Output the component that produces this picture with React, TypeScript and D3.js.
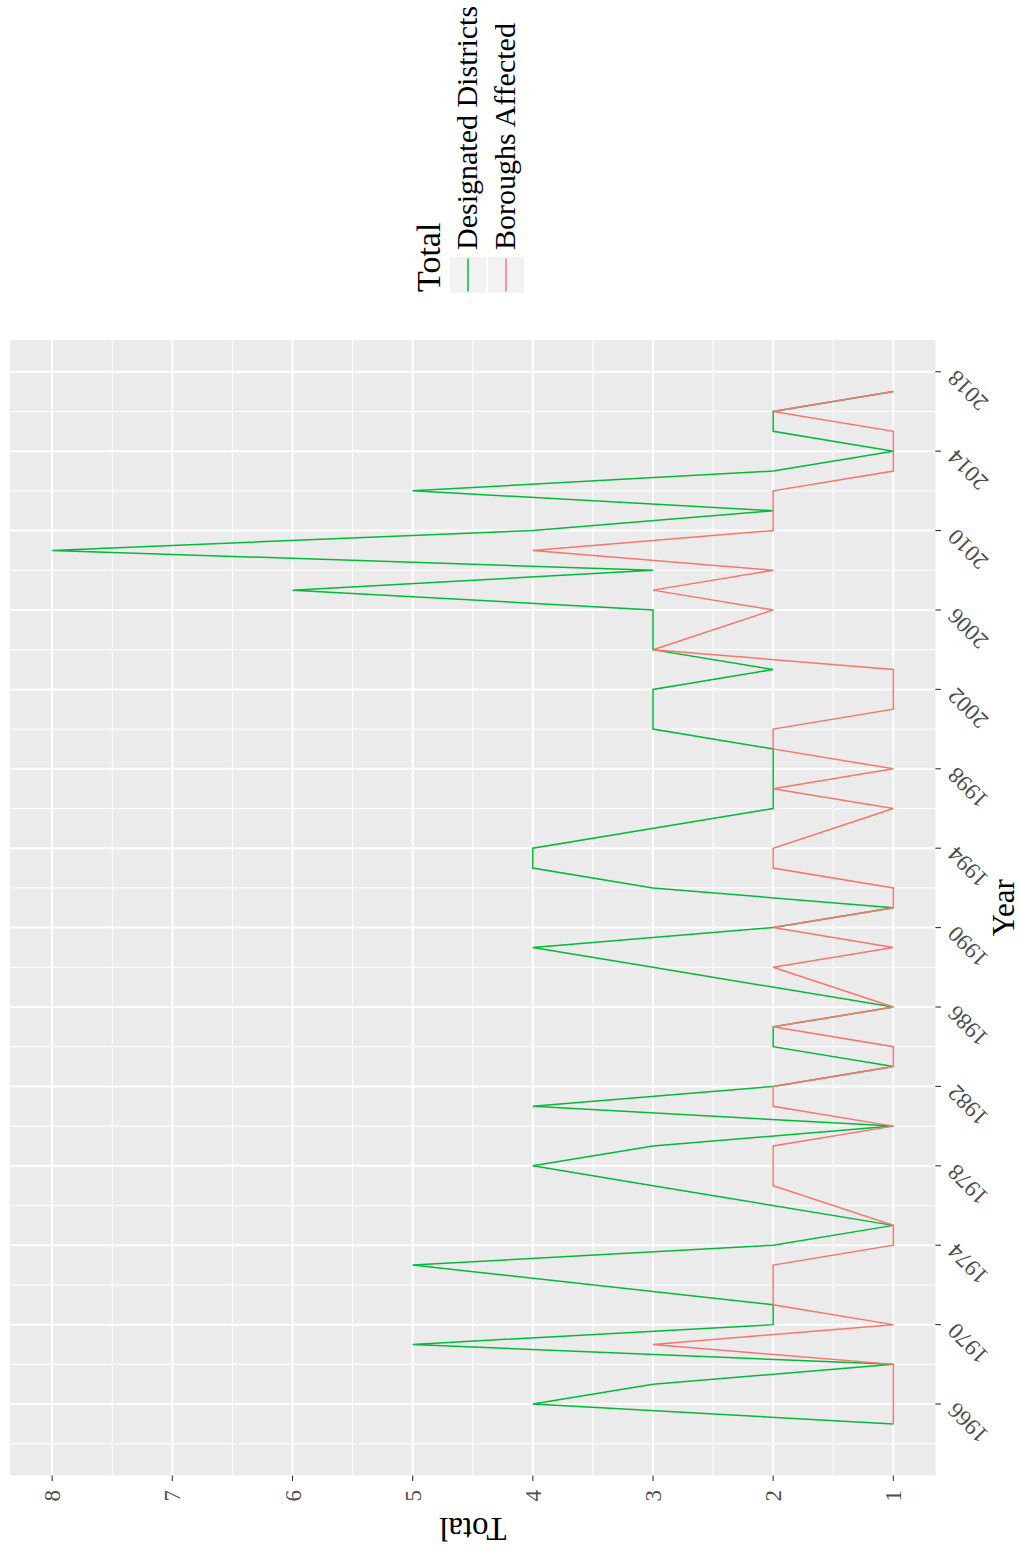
import React from 'react';
import * as d3 from 'd3';

// ---- data ----
const years = [1965, 1966, 1967, 1968, 1969, 1970, 1971, 1973, 1974, 1975, 1977, 1978, 1979, 1980, 1981, 1982, 1983, 1984, 1985, 1986, 1988, 1989, 1990, 1991, 1992, 1993, 1994, 1996, 1997, 1998, 1999, 2000, 2001, 2002, 2003, 2004, 2006, 2007, 2008, 2009, 2010, 2011, 2012, 2013, 2014, 2015, 2016, 2017];
const designatedDistricts = [1, 4, 3, 1, 5, 2, 2, 5, 2, 1, 3, 4, 3, 1, 4, 2, 1, 2, 2, 1, 3, 4, 2, 1, 3, 4, 4, 2, 2, 2, 2, 3, 3, 3, 2, 3, 3, 6, 3, 8, 4, 2, 5, 2, 1, 2, 2, 1];
const boroughsAffected = [1, 1, 1, 1, 3, 1, 2, 2, 1, 1, 2, 2, 2, 1, 2, 2, 1, 1, 2, 1, 2, 1, 2, 1, 1, 2, 2, 1, 2, 1, 2, 2, 1, 1, 1, 3, 2, 3, 2, 4, 2, 2, 2, 1, 1, 1, 2, 1];
const seriesNames = ['Designated Districts', 'Boroughs Affected'];
const seriesColors = ['#00BA38', '#F8766D'];
const yearTicks = [1966, 1970, 1974, 1978, 1982, 1986, 1990, 1994, 1998, 2002, 2006, 2010, 2014, 2018];
const yearMinor = [1964, 1968, 1972, 1976, 1980, 1984, 1988, 1992, 1996, 2000, 2004, 2008, 2012, 2016];
const totalTicks = [1, 2, 3, 4, 5, 6, 7, 8];
const totalMinor = [1.5, 2.5, 3.5, 4.5, 5.5, 6.5, 7.5];
const xTitle = 'Year';
const yTitle = 'Total';
const legendTitle = 'Total';

// ---- layout (the plot is drawn unrotated, then turned 90° counter-clockwise) ----
const PAGE_W = 1021;
const PAGE_H = 1546;
const panel = { left: 70.5, right: 1206, top: 10.1, bottom: 935.4 };
const FONT = "'Liberation Serif', 'Times New Roman', serif";

export default function App() {
  const yrExt = d3.extent(years) as [number, number];
  const yrPad = (yrExt[1] - yrExt[0]) * 0.05;
  const x = d3.scaleLinear().domain([yrExt[0] - yrPad, yrExt[1] + yrPad]).range([panel.left, panel.right]);
  const allVals = designatedDistricts.concat(boroughsAffected);
  const vExt = d3.extent(allVals) as [number, number];
  const vPad = (vExt[1] - vExt[0]) * 0.05;
  const y = d3.scaleLinear().domain([vExt[0] - vPad, vExt[1] + vPad]).range([panel.bottom, panel.top]);

  const series = [designatedDistricts, boroughsAffected];
  const line = d3.line<[number, number]>().x(d => x(d[0])).y(d => y(d[1]));

  return (
    <svg width={PAGE_W} height={PAGE_H} style={{ position: 'absolute', left: 0, top: 0 }} fontFamily={FONT}>
      <rect x={0} y={0} width={PAGE_W} height={PAGE_H} fill="#FFFFFF" />
      <g transform={`translate(0,${PAGE_H}) rotate(-90)`}>
        {/* panel */}
        <rect x={panel.left} y={panel.top} width={panel.right - panel.left} height={panel.bottom - panel.top} fill="#EBEBEB" />
        {yearMinor.filter(t => x(t) >= panel.left && x(t) <= panel.right).map(t => (
          <line key={'xm' + t} x1={x(t)} x2={x(t)} y1={panel.top} y2={panel.bottom} stroke="#FFFFFF" strokeWidth={1} />
        ))}
        {totalMinor.map(v => (
          <line key={'ym' + v} x1={panel.left} x2={panel.right} y1={y(v)} y2={y(v)} stroke="#FFFFFF" strokeWidth={1} />
        ))}
        {yearTicks.map(t => (
          <line key={'xg' + t} x1={x(t)} x2={x(t)} y1={panel.top} y2={panel.bottom} stroke="#FFFFFF" strokeWidth={2} />
        ))}
        {totalTicks.map(v => (
          <line key={'yg' + v} x1={panel.left} x2={panel.right} y1={y(v)} y2={y(v)} stroke="#FFFFFF" strokeWidth={2} />
        ))}
        {/* series */}
        {series.map((vals, i) => (
          <path key={'s' + i} d={line(years.map((yr, j) => [yr, vals[j]] as [number, number])) || ''} fill="none" stroke={seriesColors[i]} strokeWidth={1.5} strokeLinejoin="miter" />
        ))}
        {/* x axis */}
        {yearTicks.map(t => (
          <g key={'xt' + t}>
            <line x1={x(t)} x2={x(t)} y1={panel.bottom} y2={panel.bottom + 5.5} stroke="#333333" strokeWidth={1.1} />
            <text transform={`translate(${x(t) + 3},957) rotate(-45)`} textAnchor="end" fontSize={23} fill="#4D4D4D">{t}</text>
          </g>
        ))}
        {/* y axis */}
        {totalTicks.map(v => (
          <g key={'yt' + v}>
            <line x1={panel.left - 5.5} x2={panel.left} y1={y(v)} y2={y(v)} stroke="#333333" strokeWidth={1.1} />
            <text x={56} y={y(v)} dy="0.35em" textAnchor="end" fontSize={23} fill="#4D4D4D">{v}</text>
          </g>
        ))}
        <text x={(panel.left + panel.right) / 2} y={1014} textAnchor="middle" fontSize={31} fill="#000000">{xTitle}</text>
        <text transform={`translate(28.5,${(panel.top + panel.bottom) / 2}) rotate(-90)`} textAnchor="middle" fontSize={33} fill="#000000">{yTitle}</text>
        {/* legend */}
        <text x={1254} y={440} fontSize={34} fill="#000000">{legendTitle}</text>
        {seriesNames.map((name, i) => {
          const top = 450 + i * 38;
          return (
            <g key={'lg' + i}>
              <rect x={1253} y={top} width={36} height={36} fill="#F2F2F2" />
              <line x1={1254.5} x2={1287.5} y1={top + 18} y2={top + 18} stroke={seriesColors[i]} strokeWidth={1.5} />
              <text x={1296} y={top + 27} fontSize={30} fill="#000000">{name}</text>
            </g>
          );
        })}
      </g>
    </svg>
  );
}
